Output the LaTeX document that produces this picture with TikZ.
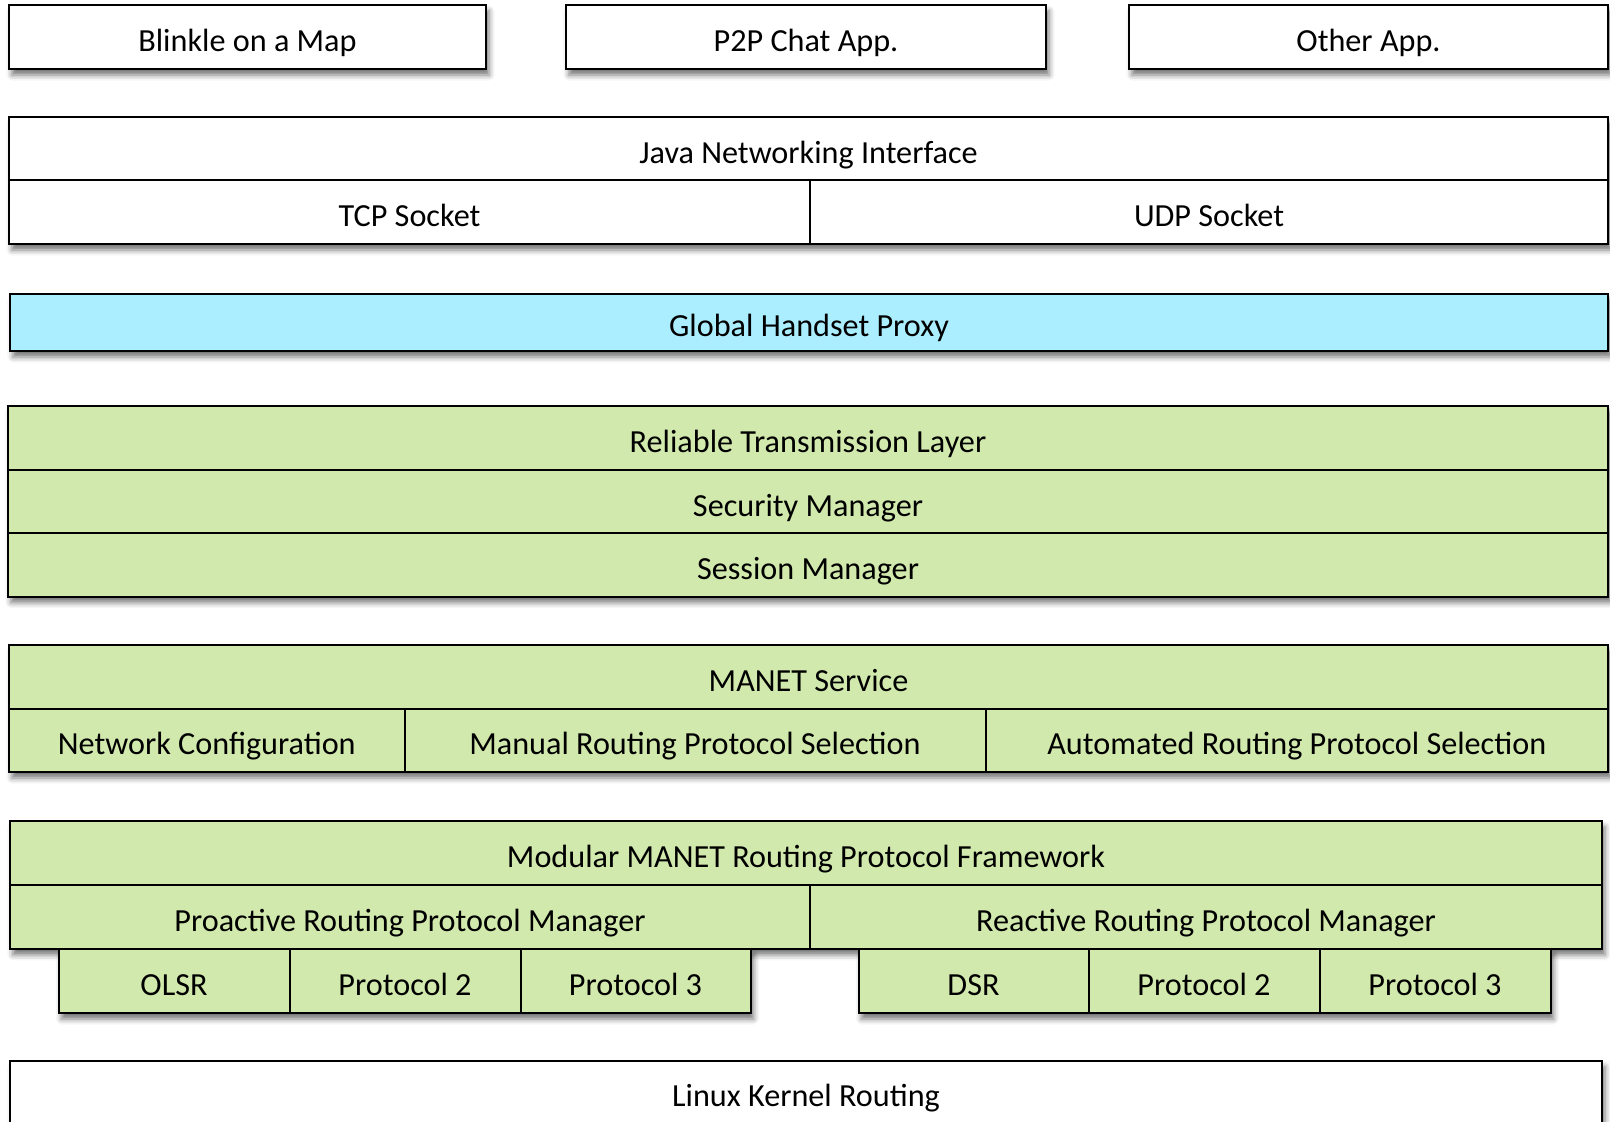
\documentclass[tikz,border=0pt]{standalone}
\usepackage{fontspec}
\setmainfont{Carlito}
\usetikzlibrary{shadows.blur}

\definecolor{layergreen}{HTML}{D1E9AC}
\definecolor{proxyblue}{HTML}{AAEEFF}

\tikzset{
  box/.style={draw=black, line width=1pt, rectangle, inner sep=0pt, outer sep=0pt,
    fill=white, font=\fontsize{16.1pt}{19pt}\selectfont,
    text height=14.9pt, text depth=0.3pt},
  greenbox/.style={box, fill=layergreen},
  bluebox/.style={box, fill=proxyblue},
  groupshadow/.style={blur shadow={shadow xshift=1.5pt, shadow yshift=-3pt,
    shadow blur radius=2.8pt, shadow opacity=55}},
}

% \layerblk{style}{name}{x1}{y1}{x2}{y2}{text}: a box spanning two corners
\newcommand\layerblk[7]{%
  \node[#1, minimum width={(#5-(#3))*0.5pt}, minimum height={(#6-(#4))*0.5pt}]
    (#2) at ({(#3+#5)/2},{(#4+#6)/2}) {#7};}
% \groupshadow{x1}{y1}{x2}{y2}: soft shadow behind a stack of boxes
\newcommand\groupshadow[4]{\path[groupshadow] (#1,#2) rectangle (#3,#4);}

\begin{document}
\begin{tikzpicture}[x=0.5pt, y=-0.5pt]
\useasboundingbox (0,0) rectangle (1610,1122);

% shadows first, so every box sits on top of them
\groupshadow{9}{5}{486}{69}
\groupshadow{566}{5}{1046}{69}
\groupshadow{1129}{5}{1608}{69}
\groupshadow{9}{117}{1608}{244}
\groupshadow{10}{293.6}{1608}{351}
\groupshadow{8}{405.6}{1608}{596.5}
\groupshadow{9}{645}{1608}{772}
\groupshadow{10}{821}{1602}{948.8}
\groupshadow{58.5}{948.8}{750.5}{1013}
\groupshadow{858.5}{948.8}{1550.5}{1013}
\groupshadow{10}{1061}{1602}{1123}

% applications
\layerblk{box}{app1}{9}{5}{486}{69}{Blinkle on a Map}
\layerblk{box}{app2}{566}{5}{1046}{69}{P2P Chat App.}
\layerblk{box}{app3}{1129}{5}{1608}{69}{Other App.}

% Java networking
\layerblk{box}{jni}{9}{117}{1608}{180}{Java Networking Interface}
\layerblk{box}{tcp}{9}{180}{810}{244}{TCP Socket}
\layerblk{box}{udp}{810}{180}{1608}{244}{UDP Socket}

% proxy
\layerblk{bluebox}{ghp}{10}{293.6}{1608}{351}{Global Handset Proxy}

% transmission, security, session
\layerblk{greenbox}{rtl}{8}{405.6}{1608}{470}{Reliable Transmission Layer}
\layerblk{greenbox}{sec}{8}{470}{1608}{533}{Security Manager}
\layerblk{greenbox}{ses}{8}{533}{1608}{596.5}{Session Manager}

% MANET service
\layerblk{greenbox}{manet}{9}{645}{1608}{708.5}{MANET Service}
\layerblk{greenbox}{netcfg}{9}{708.5}{404.5}{772}{Network Configuration}
\layerblk{greenbox}{manual}{404.5}{708.5}{985.5}{772}{Manual Routing Protocol Selection}
\layerblk{greenbox}{auto}{985.5}{708.5}{1608}{772}{Automated Routing Protocol Selection}

% routing framework
\layerblk{greenbox}{mmrpf}{10}{821}{1602}{885}{Modular MANET Routing Protocol Framework}
\layerblk{greenbox}{proact}{10}{885}{810}{948.8}{Proactive Routing Protocol Manager}
\layerblk{greenbox}{react}{810}{885}{1602}{948.8}{Reactive Routing Protocol Manager}
\layerblk{greenbox}{olsr}{58.5}{948.8}{289.5}{1013}{OLSR}
\layerblk{greenbox}{protoA}{289.5}{948.8}{520.5}{1013}{Protocol 2}
\layerblk{greenbox}{protoB}{520.5}{948.8}{750.5}{1013}{Protocol 3}
\layerblk{greenbox}{dsr}{858.5}{948.8}{1088.5}{1013}{DSR}
\layerblk{greenbox}{protoC}{1088.5}{948.8}{1319.5}{1013}{Protocol 2}
\layerblk{greenbox}{protoD}{1319.5}{948.8}{1550.5}{1013}{Protocol 3}

% kernel
\layerblk{box}{linux}{10}{1061}{1602}{1123}{Linux Kernel Routing}
\end{tikzpicture}
\end{document}
